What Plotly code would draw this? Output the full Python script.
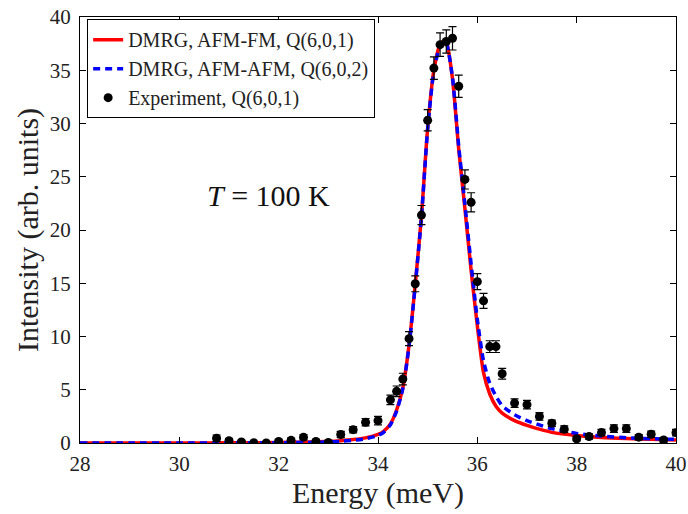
import plotly.graph_objects as go

# Experimental spectrum at Q(6,0,1), T = 100 K
exp_energy = [30.75, 31.0, 31.25, 31.5, 31.75, 32.0, 32.25, 32.5, 32.75, 33.0,
              33.25, 33.5, 33.75, 34.0, 34.25, 34.375, 34.5, 34.625, 34.75, 34.875,
              35.0, 35.125, 35.25, 35.375, 35.5, 35.625, 35.75, 35.875, 36.0, 36.125,
              36.25, 36.375, 36.5, 36.75, 37.0, 37.25, 37.5, 37.75, 38.0, 38.25,
              38.5, 38.75, 39.0, 39.25, 39.5, 39.75, 40.0]
exp_intensity = [0.45, 0.22, 0.1, 0.02, 0.0, 0.15, 0.25, 0.55, 0.15, 0.05,
                 0.8, 1.25, 1.95, 2.1, 4.05, 4.85, 6.0, 9.8, 14.95, 21.4,
                 30.3, 35.2, 37.4, 37.7, 38.0, 33.5, 24.75, 22.6, 15.15, 13.35,
                 9.05, 9.05, 6.5, 3.75, 3.6, 2.5, 1.85, 1.3, 0.4, 0.6,
                 0.98, 1.35, 1.35, 0.55, 0.82, 0.28, 0.97]
exp_error = [0.3, 0.2, 0.15, 0.1, 0.1, 0.15, 0.2, 0.25, 0.15, 0.1,
             0.3, 0.3, 0.35, 0.4, 0.45, 0.5, 0.55, 0.65, 0.75, 0.9,
             1.0, 1.05, 1.1, 1.1, 1.1, 1.05, 0.9, 0.9, 0.75, 0.7,
             0.55, 0.55, 0.5, 0.4, 0.4, 0.35, 0.3, 0.3, 0.2, 0.25,
             0.3, 0.35, 0.35, 0.25, 0.3, 0.2, 0.3]

# DMRG spectra
model_energy = [28.0, 29.0, 30.0, 31.0, 32.0, 32.5, 33.0, 33.25, 33.5, 33.75,
                34.0, 34.125, 34.25, 34.375, 34.5, 34.625, 34.75, 34.875, 35.0, 35.125,
                35.25, 35.33, 35.375, 35.5, 35.625, 35.75, 35.875, 36.0, 36.125, 36.25,
                36.375, 36.5, 36.75, 37.0, 37.25, 37.5, 38.0, 38.5, 39.0, 39.5, 40.0]
afm_fm = [0.0, 0.0, 0.0, 0.02, 0.05, 0.08, 0.15, 0.22, 0.32, 0.48,
          0.8, 1.15, 1.8, 3.1, 5.2, 9.2, 14.9, 21.3, 29.6, 35.0,
          37.4, 37.8, 37.7, 34.2, 27.6, 22.0, 16.2, 11.0, 6.6, 4.6,
          3.45, 2.8, 2.1, 1.65, 1.3, 1.0, 0.7, 0.52, 0.42, 0.35, 0.28]
afm_afm = [0.0, 0.0, 0.0, 0.01, 0.03, 0.05, 0.1, 0.16, 0.25, 0.4,
           0.7, 1.05, 1.7, 3.0, 5.1, 9.1, 14.8, 21.2, 29.5, 34.9,
           37.3, 37.7, 37.6, 34.3, 27.9, 22.4, 16.8, 11.6, 7.7, 5.6,
           4.4, 3.5, 2.65, 2.1, 1.7, 1.35, 0.9, 0.65, 0.5, 0.4, 0.34]

x_ticks = [28, 30, 32, 34, 36, 38, 40]
y_ticks = [0, 5, 10, 15, 20, 25, 30, 35, 40]

serif = "Liberation Serif, DejaVu Serif, serif"

fig = go.Figure()
fig.add_trace(go.Scatter(
    x=model_energy, y=afm_fm, mode="lines",
    line=dict(color="#ff0000", width=3.5, shape="spline", smoothing=0.6),
    name="DMRG, AFM-FM, Q(6,0,1)"))
fig.add_trace(go.Scatter(
    x=model_energy, y=afm_afm, mode="lines",
    line=dict(color="#0000ff", width=3.5, dash="7px,5px", shape="spline", smoothing=0.6),
    name="DMRG, AFM-AFM, Q(6,0,2)"))
fig.add_trace(go.Scatter(
    x=exp_energy, y=exp_intensity, mode="markers",
    marker=dict(color="black", size=9),
    error_y=dict(type="data", array=exp_error, color="black", thickness=1.2, width=4),
    name="Experiment, Q(6,0,1)"))

fig.add_annotation(
    x=31.8, y=23.2, xref="x", yref="y", showarrow=False,
    text="<i>T</i> = 100 K", font=dict(family=serif, size=30, color="#111"))

axis_common = dict(
    showline=True, linecolor="black", linewidth=1, mirror="allticks",
    ticks="inside", ticklen=6, tickcolor="black", tickwidth=1,
    showgrid=False, zeroline=False, automargin=False,
    tickfont=dict(family=serif, size=21, color="#222"),
)

fig.update_layout(
    width=688, height=514,
    margin=dict(l=80, r=12, t=17, b=71),
    paper_bgcolor="white", plot_bgcolor="white",
    font=dict(family=serif, color="black"),
    xaxis=dict(range=[28, 40], tickvals=x_ticks, ticklabelstandoff=2,
               title=dict(text="Energy (meV)", font=dict(family=serif, size=30, color="#222"), standoff=2),
               **axis_common),
    yaxis=dict(range=[0, 40], tickvals=y_ticks, ticklabelstandoff=4,
               title=dict(text="Intensity (arb. units)", font=dict(family=serif, size=30, color="#222"), standoff=2),
               **axis_common),
    legend=dict(x=0.012, y=0.995, xanchor="left", yanchor="top",
                bgcolor="white", bordercolor="black", borderwidth=1,
                font=dict(family=serif, size=20, color="#222"),
                tracegroupgap=0, itemwidth=30),
    showlegend=True,
)

fig.write_html("out.html")
